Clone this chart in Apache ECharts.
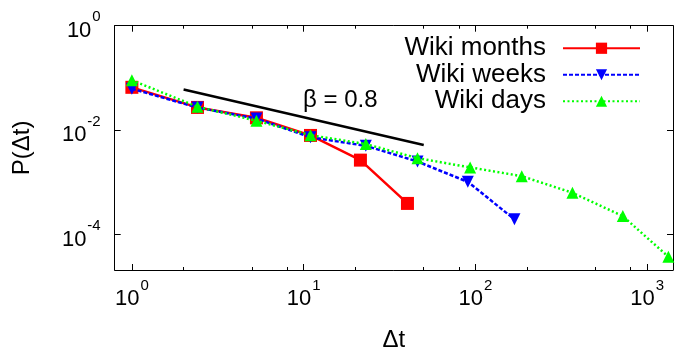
<!DOCTYPE html>
<html>
<head>
<meta charset="utf-8">
<script src="https://cdn.jsdelivr.net/npm/echarts@6/dist/echarts.min.js"></script>
<style>html,body{margin:0;padding:0;background:#fff}#c{width:681px;height:347px}</style>
</head>
<body>
<div id="c"></div>
<script>
var FONT = 'Liberation Sans, Arial, Helvetica, sans-serif';
var seriesNames = ['Wiki months', 'Wiki weeks', 'Wiki days'];
var monthsX = [1, 2.41, 5.31, 10.96, 21.4, 40.2];
var monthsY = [0.066, 0.0272, 0.0172, 0.0079, 0.00266, 0.000394];
var weeksX = [1, 2.41, 5.31, 10.96, 23, 46, 90.3, 168.7];
var weeksY = [0.062, 0.027, 0.0166, 0.0073, 0.005, 0.0025, 0.00102, 0.000195];
var daysX = [1, 2.41, 5.31, 10.96, 23, 46, 93.1, 186, 367, 721, 1328];
var daysY = [0.09, 0.028, 0.0151, 0.008, 0.0054, 0.0029, 0.00193, 0.00131, 0.00063, 0.000225, 0.0000374];
var fitX = [2, 50];
var fitY = [0.06, 0.0052];
var fitLabel = '\u03b2 = 0.8';
var xMajorTicks = [1, 10, 100, 1000];
var xMinorTicks = [2, 5, 8, 20, 50, 80, 200, 500, 800];
var yMajorTicks = [0.0001, 0.01, 1];
var xMin = Math.pow(10, -0.1), xMax = Math.pow(10, 3.15);
var yMin = Math.pow(10, -4.68), yMax = 1;

function pairs(xs, ys) { return xs.map(function (x, i) { return [x, ys[i]]; }); }
function powLabel(v) { return '{b|10}{s|' + Math.round(Math.log10(v)) + '}'; }
var rich = {
  b: { fontSize: 22, fontFamily: FONT, color: '#000', lineHeight: 32, verticalAlign: 'bottom' },
  s: { fontSize: 15, fontFamily: FONT, color: '#000', lineHeight: 15, verticalAlign: 'top', padding: [0, 0, 0, 1] }
};
var black = '#000';
function xAxisDef(pos, ticks, len, showLine, showLabel, name) {
  return {
    type: 'log', position: pos, min: xMin, max: xMax, gridIndex: 0,
    name: name || '', nameLocation: 'middle', nameGap: 58,
    nameTextStyle: { fontSize: 24, fontFamily: FONT, color: black },
    axisLine: { show: showLine, lineStyle: { color: black, width: 1 } },
    axisTick: { show: true, inside: true, length: len, customValues: ticks, lineStyle: { color: black, width: 1 } },
    axisLabel: { show: showLabel, customValues: xMajorTicks, formatter: powLabel, rich: rich, margin: 8 },
    splitLine: { show: false }, minorTick: { show: false }
  };
}
function yAxisDef(pos, showLabel, name) {
  return {
    type: 'log', position: pos, min: yMin, max: yMax, gridIndex: 0,
    name: name || '', nameLocation: 'middle', nameGap: 80, nameRotate: 90,
    nameTextStyle: { fontSize: 24, fontFamily: FONT, color: black },
    axisLine: { show: true, lineStyle: { color: black, width: 1 } },
    axisTick: { show: true, inside: true, length: 6, customValues: yMajorTicks, lineStyle: { color: black, width: 1 } },
    axisLabel: { show: showLabel, customValues: yMajorTicks, formatter: powLabel, rich: rich, margin: 14 },
    splitLine: { show: false }, minorTick: { show: false }
  };
}

var chart = echarts.init(document.getElementById('c'), null, { renderer: 'canvas' });
chart.setOption({
  animation: false,
  backgroundColor: '#fff',
  grid: { left: 114.7, right: 8, top: 25.7, bottom: 77, containLabel: false, outerBoundsMode: 'none' },
  xAxis: [
    xAxisDef('bottom', xMajorTicks, 6, true, true, '\u0394t'),
    xAxisDef('bottom', xMinorTicks, 3, false, false),
    xAxisDef('top', xMajorTicks, 6, true, false),
    xAxisDef('top', xMinorTicks, 3, false, false)
  ],
  yAxis: [
    yAxisDef('left', true, 'P(\u0394t)'),
    yAxisDef('right', false)
  ],
  legend: {
    orient: 'vertical', right: 35, top: 30, align: 'right',
    itemWidth: 77, itemHeight: 14, itemGap: 0,
    data: seriesNames,
    textStyle: { fontSize: 26, fontFamily: FONT, color: black, lineHeight: 26.5, padding: [0, 12, 0, 0] }
  },
  graphic: [{
    type: 'text', left: 303, top: 88,
    style: { text: fitLabel, fontSize: 24, fontFamily: FONT, fill: black }
  }],
  series: [
    {
      name: 'fit', type: 'line', data: pairs(fitX, fitY), showSymbol: false, symbol: 'none',
      lineStyle: { color: black, width: 2.5 }, itemStyle: { color: black }, silent: true, z: 1
    },
    {
      name: seriesNames[0], type: 'line', data: pairs(monthsX, monthsY),
      symbol: 'rect', symbolSize: 13, color: '#ff0000',
      lineStyle: { color: '#ff0000', width: 2.5 }, itemStyle: { color: '#ff0000' }, z: 2
    },
    {
      name: seriesNames[1], type: 'line', data: pairs(weeksX, weeksY),
      symbol: 'triangle', symbolRotate: 180, symbolSize: 12, color: '#0000ff',
      lineStyle: { color: '#0000ff', width: 2.5, type: [4, 2] }, itemStyle: { color: '#0000ff' }, z: 3
    },
    {
      name: seriesNames[2], type: 'line', data: pairs(daysX, daysY),
      symbol: 'triangle', symbolSize: 12, color: '#00ff00',
      lineStyle: { color: '#00ff00', width: 2.5, type: [2, 2.5] }, itemStyle: { color: '#00ff00' }, z: 4
    }
  ]
});
</script>
</body>
</html>
